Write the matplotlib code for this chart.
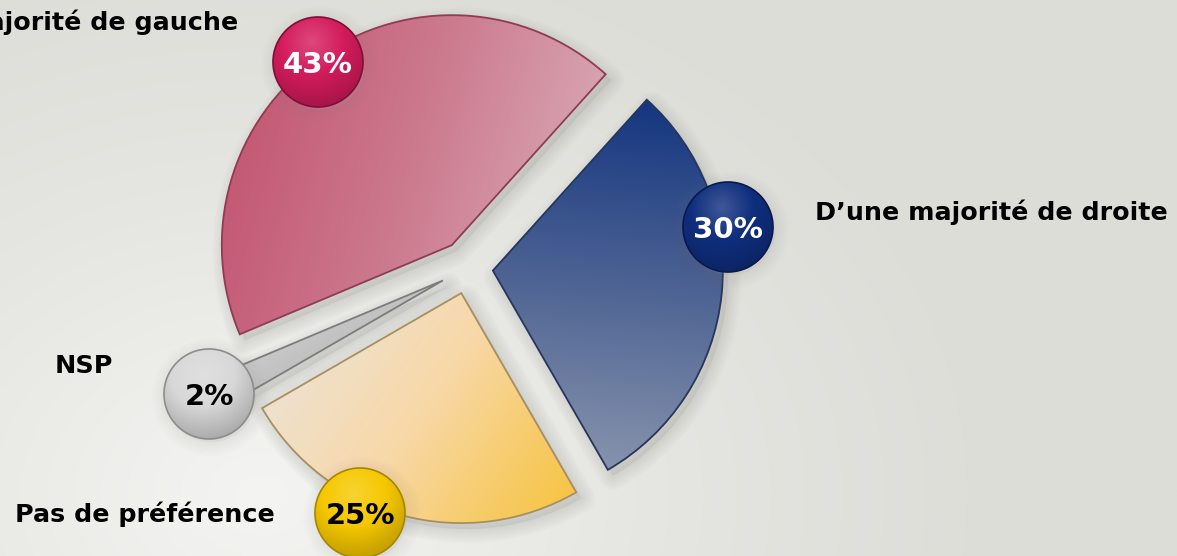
import numpy as np
import matplotlib.pyplot as plt
from matplotlib.colors import to_rgb
from matplotlib.patches import Circle, PathPatch
from matplotlib.transforms import Affine2D

# survey answers, in drawing order (counter-clockwise from the start angle)
categories = ["D’une majorité de gauche", "NSP", "Pas de préférence", "D’une majorité de droite"]
shares = [43, 2, 25, 30]

# slice styling
explode = [28, 28, 26, 25]
slice_stops = [
    ["#c24f6c", "#cc7a8e", "#dcb3be"],
    ["#dcdcdc", "#c2c2c2", "#a4a4a4"],
    ["#e9e6e2", "#f8d8a8", "#f6c237"],
    ["#12347f", "#4d6393", "#8a96ae"],
]
slice_angles = [-15, -60, -35, -95]
edge_colors = ["#8e3c52", "#7c7c7c", "#a88f63", "#26365c"]

# value badges
badge_xy = [(318, 494), (209, 162), (360, 43), (728, 329)]
badge_base = ["#d41b5b", "#d8d8d8", "#f6c800", "#0f2e7e"]
badge_edge = ["#7e0f36", "#8c8c8c", "#a78600", "#071a4e"]
badge_text = ["white", "black", "black", "white"]

# category labels: position and alignment
label_xy = [(238, 526), (55, 183), (15, 34), (815, 336)]
label_ha = ["right", "left", "left", "left"]

W, H = 1177, 556


def ramp(stops, t):
    cols = np.array([to_rgb(c) for c in stops])
    pos = np.linspace(0, 1, len(stops))
    t = np.clip(t, 0, 1)
    return np.stack([np.interp(t, pos, cols[:, k]) for k in range(3)], axis=-1)


def patch_bounds(patch):
    v = patch.get_path().transformed(patch.get_patch_transform()).vertices
    return v.min(0), v.max(0)


def linear_fill(ax, patch, stops, angle, z):
    (x0, y0), (x1, y1) = patch_bounds(patch)
    X, Y = np.meshgrid(np.linspace(x0, x1, 300), np.linspace(y0, y1, 300))
    a = np.deg2rad(angle)
    p = X * np.cos(a) + Y * np.sin(a)
    t = (p - p.min()) / (p.max() - p.min())
    im = ax.imshow(ramp(stops, t), extent=(x0, x1, y0, y1), origin="lower",
                   zorder=z, interpolation="bilinear")
    im.set_clip_path(patch)


def radial_fill(ax, patch, stops, focus, scale, z):
    (x0, y0), (x1, y1) = patch_bounds(patch)
    X, Y = np.meshgrid(np.linspace(x0, x1, 200), np.linspace(y0, y1, 200))
    t = np.hypot(X - focus[0], Y - focus[1]) / scale
    im = ax.imshow(ramp(stops, t), extent=(x0, x1, y0, y1), origin="lower",
                   zorder=z, interpolation="bilinear")
    im.set_clip_path(patch)


def soft_shadow(ax, path, dx, dy, z, strength=1.0):
    moved = path.transformed(Affine2D().translate(dx, dy))
    for k in range(7):
        ax.add_patch(PathPatch(moved, facecolor="none", edgecolor="#8f8f8a",
                               lw=2 + 3 * k, alpha=0.035 * strength,
                               joinstyle="round", zorder=z))
    ax.add_patch(PathPatch(moved, facecolor="#a5a5a0", edgecolor="none",
                           alpha=0.25 * strength, zorder=z))


def mix(c, other, f):
    return tuple((1 - f) * np.array(to_rgb(c)) + f * np.array(to_rgb(other)))


fig = plt.figure(figsize=(W / 100, H / 100), dpi=100)
ax = fig.add_axes([0, 0, 1, 1])

# backdrop: light grey, brighter towards the lower left
bx, by = np.meshgrid(np.linspace(0, W, 240), np.linspace(0, H, 120))
bt = np.hypot(bx - 260, (by - 60) * 1.3) / 750
ax.imshow(ramp(["#f4f4f2", "#e6e6e2", "#dcddd7"], bt), extent=(0, W, 0, H),
          origin="lower", zorder=0, interpolation="bilinear")

wedges, _ = ax.pie(shares, explode=explode, startangle=48, counterclock=True,
                   center=(468, 288), radius=230,
                   wedgeprops=dict(facecolor="none", linewidth=1.3))

for w, stops, ang, ec in zip(wedges, slice_stops, slice_angles, edge_colors):
    w.set_edgecolor(ec)
    w.set_zorder(4)
    soft_shadow(ax, w.get_path(), 5, -6, 1)
    linear_fill(ax, w, stops, ang, 3)

for (x, y), base, ec, tc, val in zip(badge_xy, badge_base, badge_edge, badge_text, shares):
    r = 45
    soft_shadow(ax, Circle((x, y), r).get_path().transformed(
        Affine2D().scale(r).translate(x, y)), 2, -3, 5, strength=0.5)
    disc = Circle((x, y), r, facecolor="none", edgecolor=ec, lw=1.2, zorder=7)
    ax.add_patch(disc)
    radial_fill(ax, disc, [mix(base, "white", 0.2), base, mix(base, "black", 0.2)],
                (x - 6, y + 20), 64, 6)
    ax.text(x, y, f"{val}%", ha="center", va="center_baseline", fontsize=21,
            fontweight="bold", color=tc, zorder=8)

for name, (x, y), ha in zip(categories, label_xy, label_ha):
    ax.text(x, y, name, ha=ha, va="baseline", fontsize=18.3, fontweight="bold",
            color="black", zorder=8)

ax.set_xlim(0, W)
ax.set_ylim(0, H)
ax.set_aspect("equal")
ax.axis("off")
fig.savefig("out.png", dpi=100)
